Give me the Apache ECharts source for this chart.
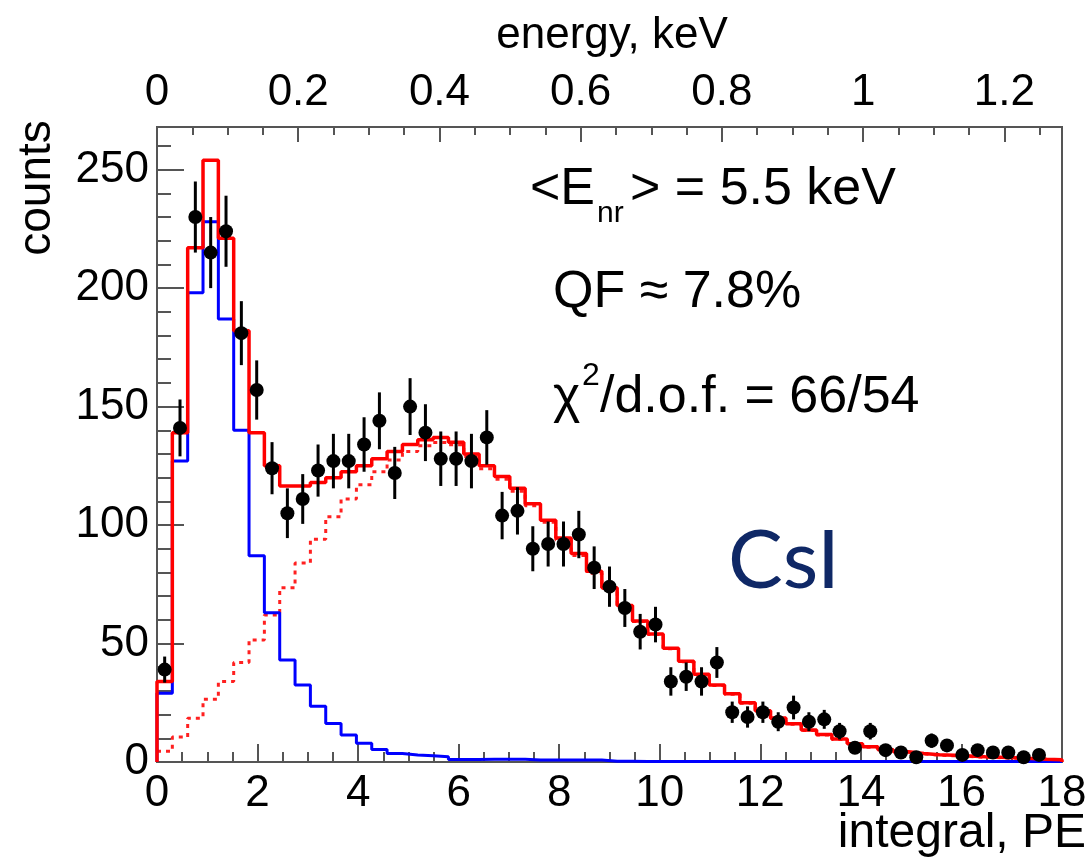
<!DOCTYPE html>
<html>
<head>
<meta charset="utf-8">
<script src="https://cdn.jsdelivr.net/npm/echarts@6/dist/echarts.min.js"></script>
<style>
  html, body { margin: 0; padding: 0; background: #fff; }
  #chart { width: 1091px; height: 861px; }
</style>
</head>
<body>
<div id="chart"></div>
<script>
// Binning of the integral spectrum (PE) and the energy scale of the top axis
const X_MIN = 0;
const X_MAX = 18;
const N_BINS = 59;
const PE_TO_KEV = 0.0712;

// Measured counts per bin (null = empty bin, not drawn)
const dataCounts = [
  39, 141, 230, 215, 224, 181, 157, 124, 105, 111,
  123, 127, 127, 134, 144, 122, 150, 139, 128, 128,
  127, 137, 104, 106, 90, 92, 92, 96, 82, 74,
  65, 55, 58, 34, 36, 34, 42, 21, 19, 21,
  17, 23, 17, 18, 13, 6, 13, 5, 4, 2,
  9, 7, 3, 5, 4, 4, 2, 3, null
];
// Statistical uncertainty of each bin
const dataErrors = [
  5.5, 12, 15, 15, 15, 13.5, 12.5, 11, 10.5, 10.5,
  11, 11.5, 11.5, 11.5, 12, 11, 12, 12, 11.5, 11.5,
  11.5, 11.5, 10, 10, 9.5, 9.5, 9.5, 10, 9, 8.5,
  8, 7.5, 7.5, 6, 6, 6, 6.5, 4.5, 4.5, 4.5,
  4, 5, 4, 4, 3.5, 2.5, 3.5, 2.2, 2, 1.5,
  3, 2.7, 1.7, 2.2, 2, 2, 1.4, 1.7, null
];
// Total fit (red solid)
const fitTotal = [
  34, 139, 217, 254, 221, 182, 139, 125, 116.5, 116.5,
  118, 120, 122.5, 125, 128, 131, 134, 136, 137, 135,
  130, 125, 120.5, 115.5, 109, 102, 94.5, 88, 80.5, 73.5,
  66, 59.5, 54, 48, 42.5, 37, 32.5, 28.8, 25, 21.6,
  18.6, 16.1, 13.5, 11.6, 9.7, 7.7, 6.4, 5.2, 4.3, 3.6,
  3.1, 2.8, 2.5, 2.2, 2.0, 1.8, 1.5, 1.2, 1.0
];
// Low-amplitude component (blue)
const fitLowPeak = [
  29, 127, 198, 228, 187, 140, 87, 63, 43, 32.5,
  23.5, 16.3, 11.4, 7.9, 5.3, 3.6, 3.0, 2.6, 2.2, 1.1,
  1.1, 1.2, 1.2, 1.2, 0.8, 0.8, 0.8, 0.8, 0.8, 0.3,
  0.3, 0.2, 0.2, 0.2, 0.2, 0.2, 0.2, 0.2, 0.2, 0.2,
  0.2, 0.2, 0.2, 0.2, 0.2, 0.2, 0.2, 0.2, 0.2, 0.2,
  0.2, 0.2, 0.2, 0.2, 0.2, 0.2, 0.2, 0.2, 0.2
];
// Nuclear-recoil signal component (red dotted)
const fitSignal = [
  4.5, 10.5, 18.5, 26.5, 34, 42, 51.5, 62, 73.5, 84,
  94, 103.5, 111, 117, 122.5, 127.5, 131, 133.5, 134.8, 133.9,
  128.9, 123.8, 119.3, 114.3, 108.2, 101.2, 93.7, 87.2, 79.7, 73.2,
  65.8, 59.3, 53.8, 47.8, 42.3, 36.8, 32.3, 28.6, 24.8, 21.4,
  18.4, 15.9, 13.3, 11.4, 9.5, 7.5, 6.2, 5.0, 4.1, 3.4,
  2.9, 2.6, 2.3, 2.0, 1.8, 1.6, 1.3, 1.0, 0.8
];

const xTicksBottom = { interval: 2, minorSplit: 4 };
const yTicks = { max: 268, interval: 50, minorSplit: 5 };
const energyTicks = { interval: 0.2, minorSplit: 4 };

const binWidth = (X_MAX - X_MIN) / N_BINS;
const binLow = i => X_MIN + i * binWidth;
const binCenter = i => X_MIN + (i + 0.5) * binWidth;

// Step outline of a histogram, closed to zero at both ends when requested
function stepPath(values, closeToZero) {
  const pts = [];
  if (closeToZero) pts.push([X_MIN, 0]);
  values.forEach((v, i) => {
    pts.push([binLow(i), v]);
    pts.push([binLow(i + 1), v]);
  });
  if (closeToZero) pts.push([X_MAX, 0]);
  return pts;
}

const points = [];
dataCounts.forEach((c, i) => {
  if (c !== null) points.push([binCenter(i), c, dataErrors[i]]);
});

const FONT = '"Liberation Sans", Arial, sans-serif';
const AXIS_COLOR = '#555';
const LABEL_SIZE = 44;
const TEXT_SIZE = 52;

function multipleLabel(step, digits) {
  return v => {
    const r = Math.round(v / step);
    return Math.abs(v - r * step) < 1e-6 ? String(+(r * step).toFixed(digits)) : '';
  };
}

const chart = echarts.init(document.getElementById('chart'), null, { renderer: 'canvas' });

chart.setOption({
  animation: false,
  backgroundColor: '#fff',
  grid: {
    left: 157, right: 29, top: 127, bottom: 99,
    containLabel: false, outerBoundsMode: 'none',
    show: true, borderColor: AXIS_COLOR, borderWidth: 2, backgroundColor: 'transparent'
  },
  xAxis: [
    {
      type: 'value', position: 'bottom', min: X_MIN, max: X_MAX,
      interval: xTicksBottom.interval,
      axisLine: { show: true, onZero: false, lineStyle: { color: AXIS_COLOR, width: 2 } },
      axisTick: { show: true, inside: true, length: 18, lineStyle: { color: AXIS_COLOR, width: 2 } },
      minorTick: { show: true, splitNumber: xTicksBottom.minorSplit, length: 10, lineStyle: { color: AXIS_COLOR, width: 2 } },
      splitLine: { show: false },
      axisLabel: { color: '#000', fontSize: LABEL_SIZE, fontFamily: FONT, margin: 10,
                   formatter: multipleLabel(2, 0) }
    },
    {
      type: 'value', position: 'top', min: 0, max: X_MAX * PE_TO_KEV,
      interval: energyTicks.interval,
      axisLine: { show: true, onZero: false, lineStyle: { color: AXIS_COLOR, width: 2 } },
      axisTick: { show: true, inside: true, length: 15, lineStyle: { color: AXIS_COLOR, width: 2 } },
      minorTick: { show: true, splitNumber: energyTicks.minorSplit, length: 8, lineStyle: { color: AXIS_COLOR, width: 2 } },
      splitLine: { show: false },
      axisLabel: { color: '#000', fontSize: LABEL_SIZE, fontFamily: FONT, margin: 12,
                   showMaxLabel: false, formatter: multipleLabel(0.2, 1) }
    }
  ],
  yAxis: {
    type: 'value', min: 0, max: yTicks.max, interval: yTicks.interval,
    axisLine: { show: true, onZero: false, lineStyle: { color: AXIS_COLOR, width: 2 } },
    axisTick: { show: true, inside: true, length: 27, lineStyle: { color: AXIS_COLOR, width: 2 } },
    minorTick: { show: true, splitNumber: yTicks.minorSplit, length: 14, lineStyle: { color: AXIS_COLOR, width: 2 } },
    splitLine: { show: false },
    axisLabel: { color: '#000', fontSize: LABEL_SIZE, fontFamily: FONT, margin: 8,
                 showMaxLabel: false, formatter: multipleLabel(50, 0) }
  },
  series: [
    {
      name: 'signal', type: 'line', xAxisIndex: 0, data: stepPath(fitSignal, false),
      showSymbol: false, clip: true, z: 2,
      lineStyle: { color: '#ff2020', width: 3, type: [4, 5] }
    },
    {
      name: 'low', type: 'line', xAxisIndex: 0, data: stepPath(fitLowPeak, true),
      showSymbol: false, clip: true, z: 3,
      lineStyle: { color: '#0000ff', width: 3 }
    },
    {
      name: 'total', type: 'line', xAxisIndex: 0, data: stepPath(fitTotal, true),
      showSymbol: false, clip: true, z: 4,
      lineStyle: { color: '#ff0000', width: 3.5 }
    },
    {
      name: 'errors', type: 'custom', xAxisIndex: 0, data: points, z: 5,
      renderItem: (params, api) => {
        const x = api.value(0), y = api.value(1), e = api.value(2);
        const p1 = api.coord([x, y + e]);
        const p2 = api.coord([x, Math.max(0, y - e)]);
        return {
          type: 'line',
          shape: { x1: p1[0], y1: p1[1], x2: p2[0], y2: p2[1] },
          style: { stroke: '#000', lineWidth: 3 }
        };
      }
    },
    {
      name: 'data', type: 'scatter', xAxisIndex: 0, z: 6,
      data: points.map(p => [p[0], p[1]]),
      symbol: 'circle', symbolSize: 14,
      itemStyle: { color: '#000', opacity: 1 }
    }
  ],
  graphic: [
    { type: 'text', x: 612, y: 36,
      style: { text: 'energy, keV', fill: '#000', font: `${LABEL_SIZE}px ${FONT}`, align: 'center', verticalAlign: 'middle' } },
    { type: 'text', x: 37, y: 188, rotation: Math.PI / 2,
      style: { text: 'counts', fill: '#000', font: `46px ${FONT}`, align: 'center', verticalAlign: 'middle' } },
    { type: 'text', x: 1086, y: 834,
      style: { text: 'integral, PE', fill: '#000', font: `48px ${FONT}`, align: 'right', verticalAlign: 'middle' } },

    { type: 'text', x: 530, y: 190,
      style: { text: '<E', fill: '#000', font: `${TEXT_SIZE}px ${FONT}`, align: 'left', verticalAlign: 'middle' } },
    { type: 'text', x: 597, y: 214,
      style: { text: 'nr', fill: '#000', font: `30px ${FONT}`, align: 'left', verticalAlign: 'middle' } },
    { type: 'text', x: 630, y: 190,
      style: { text: '> = 5.5 keV', fill: '#000', font: `${TEXT_SIZE}px ${FONT}`, align: 'left', verticalAlign: 'middle' } },

    { type: 'text', x: 553, y: 293,
      style: { text: 'QF \u2248 7.8%', fill: '#000', font: `${TEXT_SIZE}px ${FONT}`, align: 'left', verticalAlign: 'middle' } },

    { type: 'text', x: 553, y: 398,
      style: { text: '\u03C7', fill: '#000', font: `${TEXT_SIZE}px ${FONT}`, align: 'left', verticalAlign: 'middle' } },
    { type: 'text', x: 582, y: 376,
      style: { text: '2', fill: '#000', font: `32px ${FONT}`, align: 'left', verticalAlign: 'middle' } },
    { type: 'text', x: 600, y: 398,
      style: { text: '/d.o.f. = 66/54', fill: '#000', font: `${TEXT_SIZE}px ${FONT}`, align: 'left', verticalAlign: 'middle' } },

    { type: 'text', x: 728, y: 562,
      style: { text: 'CsI', fill: '#0f2866', font: `82px Lato, "Open Sans", sans-serif`, align: 'left', verticalAlign: 'middle' } }
  ]
});
</script>
</body>
</html>
